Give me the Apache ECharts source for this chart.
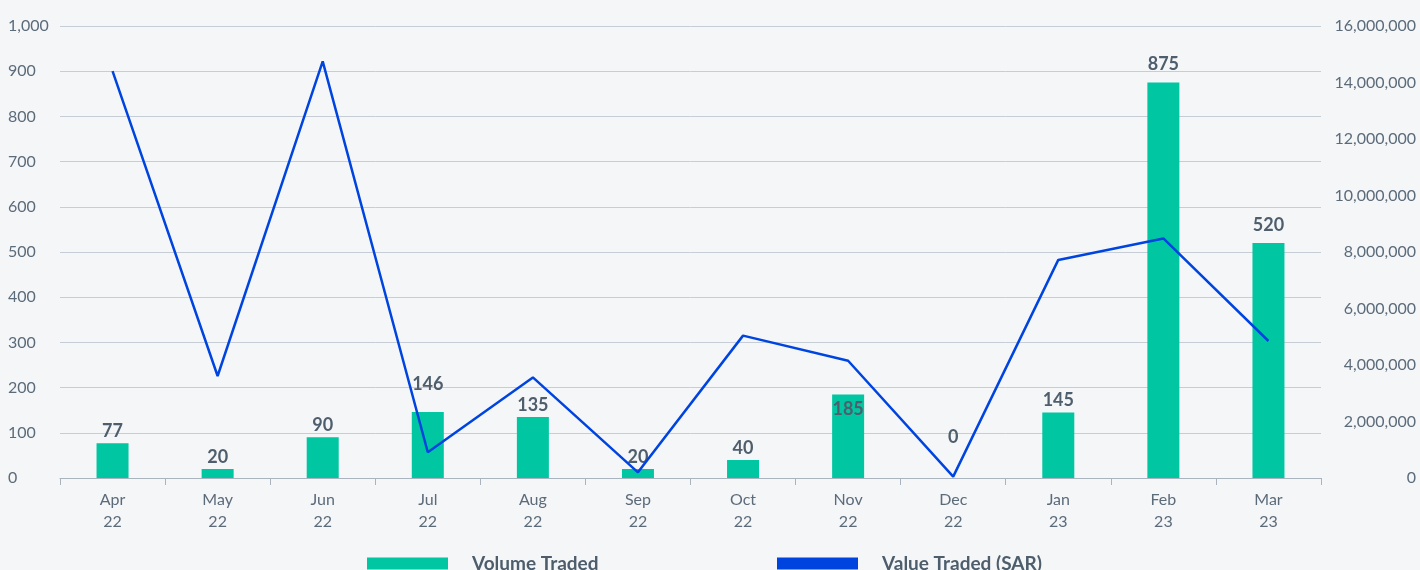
<!DOCTYPE html>
<html>
<head>
<meta charset="utf-8">
<script src="https://cdn.jsdelivr.net/npm/echarts@6/dist/echarts.min.js"></script>
<style>
html,body{margin:0;padding:0;background:#f4f6f8;}
#chart{width:1420px;height:570px;}
</style>
</head>
<body>
<div id="chart"></div>
<script>
const categories = ['Apr\n22','May\n22','Jun\n22','Jul\n22','Aug\n22','Sep\n22','Oct\n22','Nov\n22','Dec\n22','Jan\n23','Feb\n23','Mar\n23'];
const volumeTraded = [77, 20, 90, 146, 135, 20, 40, 185, 0, 145, 875, 520];
const valueTraded = [14400000, 3610000, 14750000, 910000, 3560000, 200000, 5040000, 4150000, 50000, 7720000, 8480000, 4850000];
const leftTicks = {min: 0, max: 1000, interval: 100};
const rightTicks = {min: 0, max: 16000000, interval: 2000000};

// label vertical nudges (styling only)
const labelNudge = {3: -16, 7: 27, 8: -29, 10: -6, 11: -6};

const fmt = v => Number(v).toLocaleString('en-US');
const FONT = 'Lato, "Noto Sans", sans-serif';
const labelGrey = '#5c6b7a';

const chart = echarts.init(document.getElementById('chart'), null, {renderer: 'canvas'});
chart.setOption({
  backgroundColor: '#f4f6f8',
  animation: false,
  textStyle: {fontFamily: FONT},
  grid: {left: 60, right: 99, top: 26, bottom: 92, containLabel: false},
  legend: [
    {left: 367, top: 554, padding: 0, icon: 'rect', itemWidth: 81, itemHeight: 12, data: ['Volume Traded'],
     textStyle: {fontFamily: FONT, fontSize: 19, fontWeight: 'bold', color: '#4d5d6c', padding: [0, 0, 0, 19]}},
    {left: 777, top: 554, padding: 0, icon: 'rect', itemWidth: 81, itemHeight: 12, data: ['Value Traded (SAR)'],
     textStyle: {fontFamily: FONT, fontSize: 19, fontWeight: 'bold', color: '#4d5d6c', padding: [0, 0, 0, 19]}}
  ],
  xAxis: {
    type: 'category',
    data: categories,
    boundaryGap: true,
    axisLine: {show: true, lineStyle: {color: '#aab4be', width: 1}},
    axisTick: {show: true, length: 7, lineStyle: {color: '#aab4be'}},
    axisLabel: {color: labelGrey, fontSize: 16, lineHeight: 22, margin: 11, fontFamily: FONT}
  },
  yAxis: [
    {
      type: 'value', min: leftTicks.min, max: leftTicks.max, interval: leftTicks.interval,
      axisLine: {show: false}, axisTick: {show: false},
      splitLine: {show: true, lineStyle: {color: '#c6cdd4', width: 1}},
      axisLabel: {color: labelGrey, fontSize: 16, align: 'left', margin: 52, formatter: fmt, fontFamily: FONT}
    },
    {
      type: 'value', min: rightTicks.min, max: rightTicks.max, interval: rightTicks.interval,
      axisLine: {show: false}, axisTick: {show: false}, splitLine: {show: false},
      axisLabel: {color: labelGrey, fontSize: 16, align: 'right', margin: 95, formatter: fmt, fontFamily: FONT}
    }
  ],
  series: [
    {
      name: 'Volume Traded',
      type: 'bar',
      yAxisIndex: 0,
      barWidth: 32,
      itemStyle: {color: '#00c6a2'},
      data: volumeTraded.map((v, i) => ({
        value: v,
        label: labelNudge[i] !== undefined ? {offset: [0, labelNudge[i]]} : undefined
      })),
      label: {show: true, position: 'top', distance: 3, color: '#4f5e6d', fontSize: 18, fontWeight: 'bold', fontFamily: FONT}
    },
    {
      name: 'Value Traded (SAR)',
      type: 'line',
      yAxisIndex: 1,
      data: valueTraded,
      symbol: 'none',
      itemStyle: {color: '#0044e0'},
      lineStyle: {color: '#0044e0', width: 2.5},
      z: 3
    }
  ]
});
</script>
</body>
</html>
